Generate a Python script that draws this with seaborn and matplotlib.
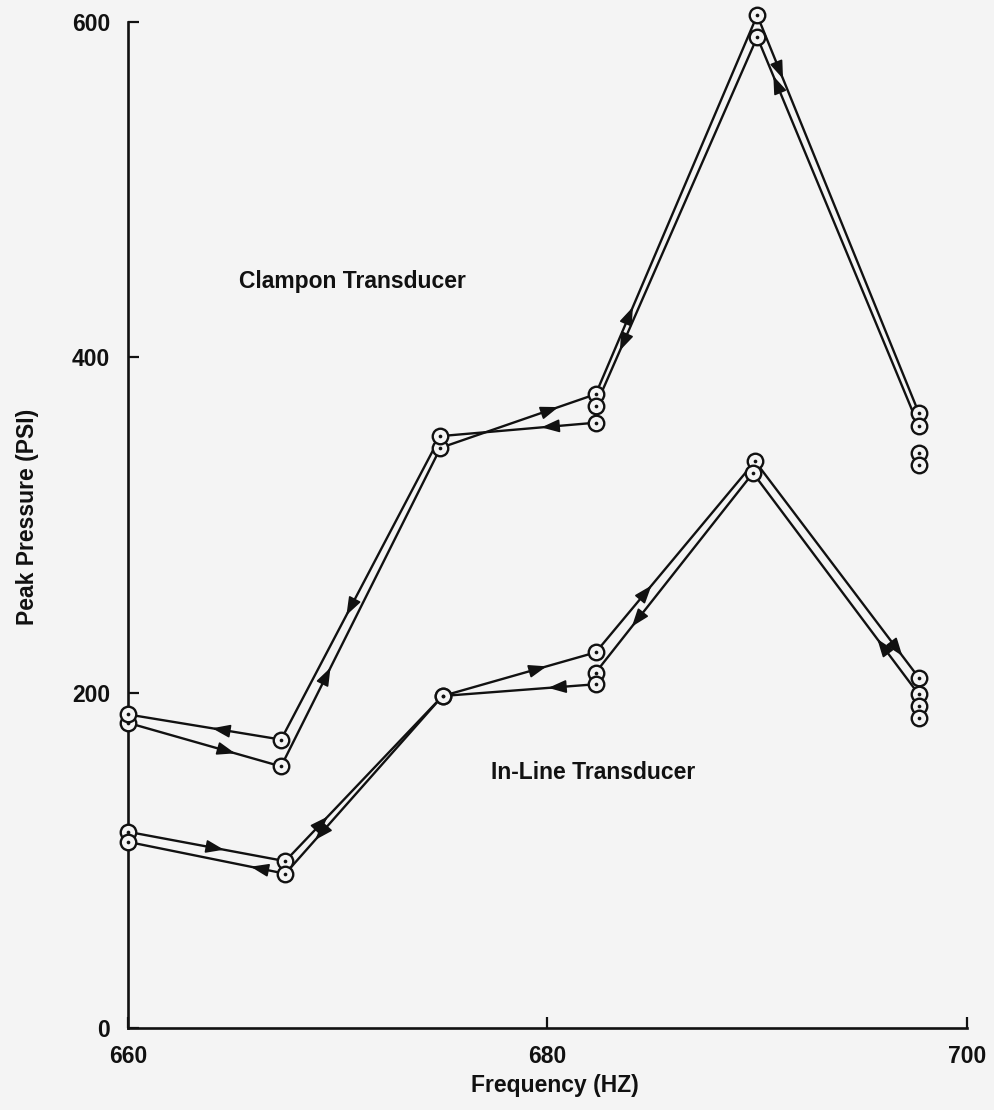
import numpy as np
import pandas as pd
import matplotlib
matplotlib.use("Agg")
import matplotlib.pyplot as plt
import seaborn as sns

# ── DATA ──────────────────────────────────────────────────────────────────────
# sweep up (forward) and sweep down (backward), frequency in Hz, pressure in PSI
clamp_fwd_f = [660.0, 667.3, 674.9, 682.3, 690.0, 697.7]
clamp_fwd_p = [182, 156, 346, 378, 604, 367]
clamp_bwd_f = [697.7, 690.0, 682.3, 682.3, 674.9, 667.3, 660.0]
clamp_bwd_p = [359, 591, 371, 361, 353, 172, 187]
clamp_extra_f = [697.7, 697.7]
clamp_extra_p = [343, 336]

inline_fwd_f = [660.0, 667.5, 675.0, 682.3, 689.9, 697.7]
inline_fwd_p = [117, 99.5, 198, 224, 338, 209]
inline_bwd_f = [697.7, 689.8, 682.3, 682.3, 675.0, 667.5, 660.0]
inline_bwd_p = [199, 331, 212, 205, 198, 92, 111]
inline_extra_f = [697.7, 697.7]
inline_extra_p = [192, 185]

# where the arrowhead sits along each segment (fraction in travel direction)
clamp_fwd_arrows = [0.70, 0.31, 0.76, 0.23, 0.16]
clamp_bwd_arrows = [0.90, 0.85, None, 0.35, 0.59, 0.45]
inline_fwd_arrows = [0.61, 0.27, 0.68, 0.35, 0.90]
inline_bwd_arrows = [0.25, 0.77, None, 0.31, 0.81, 0.22]

x_ticks = [660, 680, 700]
y_ticks = [0, 200, 400, 600]

BG = "#f4f4f4"
INK = "#111111"

# ── STYLE ─────────────────────────────────────────────────────────────────────
sns.set_theme(style="ticks")
plt.rcParams.update({
    "font.family": ["Liberation Sans", "DejaVu Sans"],
    "font.weight": "bold",
    "axes.spines.top": False,
    "axes.spines.right": False,
})

fig = plt.figure(figsize=(9.95, 11.1), dpi=100, facecolor=BG)
ax = fig.add_axes([0.1286, 0.0739, 0.8432, 0.9063], facecolor=BG)
ax.set_xlim(660, 700)
ax.set_ylim(0, 600)

paths = [
    ("clamp_fwd", clamp_fwd_f, clamp_fwd_p, clamp_fwd_arrows),
    ("clamp_bwd", clamp_bwd_f, clamp_bwd_p, clamp_bwd_arrows),
    ("inline_fwd", inline_fwd_f, inline_fwd_p, inline_fwd_arrows),
    ("inline_bwd", inline_bwd_f, inline_bwd_p, inline_bwd_arrows),
]

for name, f, p, arrows in paths:
    d = pd.DataFrame({"f": f, "p": p})
    sns.lineplot(data=d, x="f", y="p", sort=False, estimator=None, color=INK,
                 lw=1.7, ax=ax, clip_on=False, zorder=2)
    # arrowheads along the path
    for i, t in enumerate(arrows):
        if t is None:
            continue
        a = ax.transData.transform((f[i], p[i]))
        b = ax.transData.transform((f[i + 1], p[i + 1]))
        tip = a + (b - a) * t
        u = (b - a) / np.linalg.norm(b - a)
        tail = tip - u * 14
        ax.annotate("", xy=ax.transData.inverted().transform(tip),
                    xytext=ax.transData.inverted().transform(tail),
                    arrowprops=dict(arrowstyle="-|>,head_length=0.55,head_width=0.2",
                                    color=INK, lw=1.2, mutation_scale=20,
                                    shrinkA=0, shrinkB=0), zorder=3)

# data points: open circle with a centre dot
pts = pd.DataFrame({
    "f": clamp_fwd_f + clamp_bwd_f + clamp_extra_f + inline_fwd_f + inline_bwd_f + inline_extra_f,
    "p": clamp_fwd_p + clamp_bwd_p + clamp_extra_p + inline_fwd_p + inline_bwd_p + inline_extra_p,
})
sns.scatterplot(data=pts, x="f", y="p", s=125, color=BG, edgecolor=INK,
                linewidth=1.7, ax=ax, clip_on=False, zorder=4)
sns.scatterplot(data=pts, x="f", y="p", s=7, color=INK, edgecolor=INK,
                linewidth=0, ax=ax, clip_on=False, zorder=5)

# ── AXES ──────────────────────────────────────────────────────────────────────
ax.set_xticks(x_ticks)
ax.set_yticks(y_ticks)
ax.tick_params(direction="in", length=8, width=1.6, labelsize=16.5, colors=INK)
ax.tick_params(axis="x", pad=12)
ax.tick_params(axis="y", pad=13)
for s in ["left", "bottom"]:
    ax.spines[s].set_linewidth(1.9)
    ax.spines[s].set_color(INK)
for lab in ax.get_xticklabels() + ax.get_yticklabels():
    lab.set_fontweight("bold")

ax.set_xlabel("Frequency (HZ)", fontsize=16.5, fontweight="bold", color=INK)
ax.set_ylabel("Peak Pressure (PSI)", fontsize=16.5, fontweight="bold", color=INK)
ax.xaxis.set_label_coords(0.509, -0.057)
ax.xaxis.label.set_va("center")
ax.yaxis.set_label_coords(-0.120, 0.508)
ax.yaxis.label.set_va("center")

ax.text(665.3, 445, "Clampon Transducer", fontsize=16.5, fontweight="bold",
        color=INK, va="center", ha="left")
ax.text(677.3, 152.6, "In-Line Transducer", fontsize=16.5, fontweight="bold",
        color=INK, va="center", ha="left")

plt.savefig("out.png", dpi=100, facecolor=BG)
